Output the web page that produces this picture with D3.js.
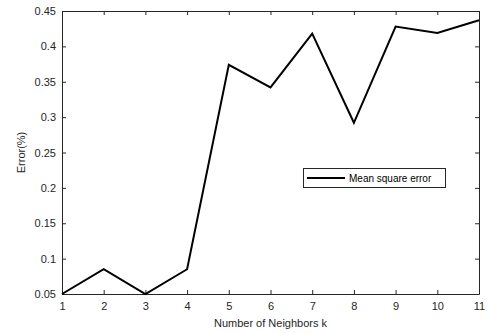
<!DOCTYPE html>
<html><head><meta charset="utf-8">
<script src="https://cdn.jsdelivr.net/npm/d3@7"></script>
<style>body{margin:0;background:#fff}svg{display:block}text{font-family:"Liberation Sans",Arial,sans-serif}</style>
</head><body>
<svg id="c" width="487" height="333"></svg>
<script>
const ks = [1,2,3,4,5,6,7,8,9,10,11];
const errors = [0.05,0.085,0.05,0.085,0.374,0.342,0.418,0.292,0.428,0.419,0.437];
const xTicks = [1,2,3,4,5,6,7,8,9,10,11];
const yTicks = [0.05,0.1,0.15,0.2,0.25,0.3,0.35,0.4,0.45];
const yTickLabels = ["0.05","0.1","0.15","0.2","0.25","0.3","0.35","0.4","0.45"];
const seriesName = "Mean square error";

const svg = d3.select("#c");
const L=62,R=479,T=11,B=294;
const x = d3.scaleLinear().domain([1,11]).range([L,R]);
const y = d3.scaleLinear().domain([0.05,0.45]).range([B,T]);
const axCol = "#262626";

const gx = svg.append("g").attr("transform",`translate(0,${B})`)
  .call(d3.axisBottom(x).tickValues(xTicks).tickSizeInner(-4).tickSizeOuter(0).tickPadding(8).tickFormat(d3.format("d")));
const gxt = svg.append("g").attr("transform",`translate(0,${T})`)
  .call(d3.axisTop(x).tickValues(xTicks).tickSizeInner(-4).tickSizeOuter(0).tickFormat(""));
const gy = svg.append("g").attr("transform",`translate(${L},0)`)
  .call(d3.axisLeft(y).tickValues(yTicks).tickSizeInner(-4).tickSizeOuter(0).tickPadding(6).tickFormat((d,i)=>yTickLabels[i]));
const gyr = svg.append("g").attr("transform",`translate(${R},0)`)
  .call(d3.axisRight(y).tickValues(yTicks).tickSizeInner(-4).tickSizeOuter(0).tickFormat(""));
[gx,gxt,gy,gyr].forEach(g=>{
  g.select(".domain").attr("stroke",axCol).attr("stroke-width",1);
  g.selectAll(".tick line").attr("stroke",axCol);
  g.selectAll("text").attr("fill",axCol).attr("font-size",11).attr("font-family","Liberation Sans, Arial, sans-serif");
});

svg.append("path").datum(ks.map((k,i)=>[k,errors[i]]))
  .attr("fill","none").attr("stroke","#000").attr("stroke-width",2).attr("stroke-linejoin","miter")
  .attr("d",d3.line().x(d=>x(d[0])).y(d=>y(d[1])));

svg.append("text").attr("x",(L+R)/2).attr("y",327).attr("text-anchor","middle")
  .attr("font-size",11).attr("fill",axCol).text("Number of Neighbors k");
svg.append("text").attr("transform",`translate(25,${(T+B)/2}) rotate(-90)`).attr("text-anchor","middle")
  .attr("font-size",11).attr("fill",axCol).text("Error(%)");

const lg = svg.append("g");
lg.append("rect").attr("x",303.5).attr("y",168.5).attr("width",142).attr("height",19)
  .attr("fill","#fff").attr("stroke",axCol).attr("stroke-width",1);
lg.append("line").attr("x1",307).attr("x2",345).attr("y1",178).attr("y2",178).attr("stroke","#000").attr("stroke-width",2);
lg.append("text").attr("x",349).attr("y",181.5).attr("font-size",10).attr("fill","#000").text(seriesName);
</script>
</body></html>
